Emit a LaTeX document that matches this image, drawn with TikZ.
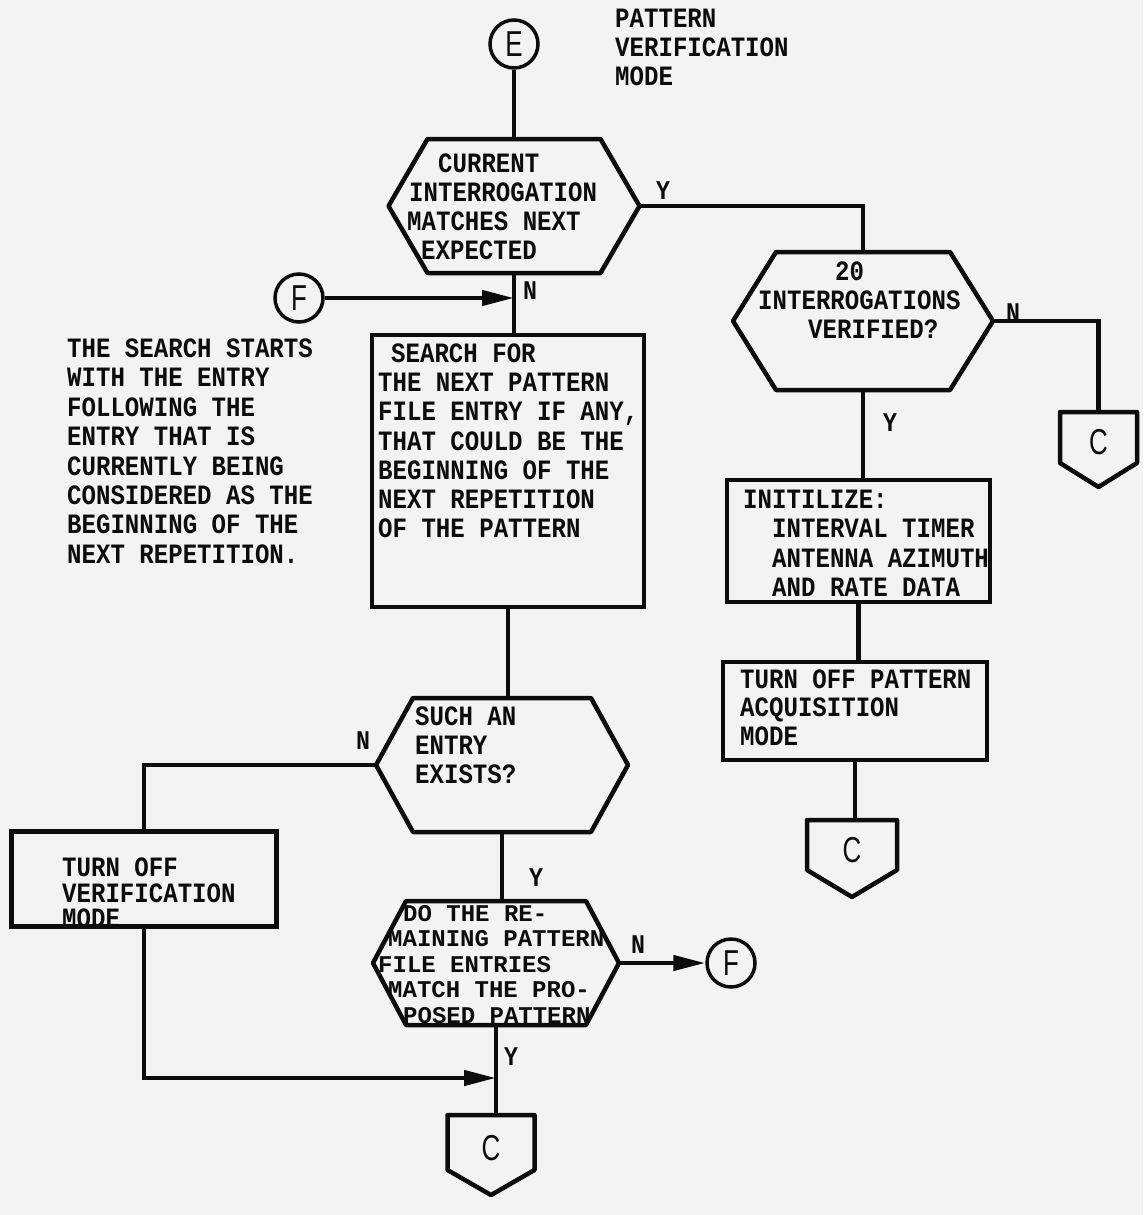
\documentclass[tikz,border=0pt]{standalone}
\usepackage{fontspec}
\usetikzlibrary{arrows.meta,calc}
\newfontfamily\tw[FakeStretch=0.86]{Liberation Mono}
\newfontfamily\twn[FakeStretch=1.0]{Liberation Mono}
\newfontfamily\cf[FakeStretch=0.72]{Liberation Sans}
\definecolor{paper}{RGB}{243,243,243}
\definecolor{ink}{RGB}{12,12,12}
\tikzset{
  shp/.style={draw=ink, line width=4.5pt, line join=round},
  ln/.style={draw=ink, line width=4.5pt},
  arr/.style={draw=ink, line width=4.5pt, -{Triangle[length=32pt,width=15pt]}},
  txt/.style={text=ink, font=\tw\bfseries\fontsize{28}{29}\selectfont, inner sep=0pt, align=left, anchor=north west},
  lbl/.style={text=ink, font=\tw\bfseries\fontsize{27}{28}\selectfont, inner sep=0pt},
  circ/.style={draw=ink, text=ink, circle, line width=3.5pt, minimum size=48pt, inner sep=0pt, font=\cf\fontsize{36}{36}\selectfont},
  cletter/.style={text=ink, inner sep=0pt, font=\cf\fontsize{36}{36}\selectfont},
  boxx/.style={draw=ink, line width=4.5pt, inner sep=0pt}
}
% hexagon: name, cx, cy, half width, half height, chamfer
\newcommand\myhex[6]{%
  \coordinate (#1l) at (#2-#4,#3);
  \coordinate (#1r) at (#2+#4,#3);
  \coordinate (#1t) at (#2,#3-#5);
  \coordinate (#1b) at (#2,#3+#5);
  \draw[shp] (#1l) -- (#2-#4+#6,#3-#5) -- (#2+#4-#6,#3-#5) -- (#1r) -- (#2+#4-#6,#3+#5) -- (#2-#4+#6,#3+#5) -- cycle;}
% off-page connector: name, cx, top, half width, side height, tip height, letter
\newcommand\myoff[7]{%
  \coordinate (#1t) at (#2,#3);
  \draw[shp] (#2-#4,#3) -- (#2+#4,#3) -- (#2+#4,#3+#5) -- (#2,#3+#5+#6) -- (#2-#4,#3+#5) -- cycle;
  \node[cletter] (#1) at (#2,#3+#5*0.6) {#7};}
\begin{document}
\begin{tikzpicture}[x=1pt,y=-1pt]
\fill[paper] (0,0) rectangle (1143,1215);
\useasboundingbox (0,0) rectangle (1143,1215);

% title
\node[txt] (title) at (615,8.5) {PATTERN\\VERIFICATION\\MODE};

% entry E
\node[circ] (E) at (514,44) {E};

% decision 1
\myhex{ha}{514}{206}{125.5}{67}{39}
\node[txt] (hatxt) at (407,153.5) {\hspace*{31pt}CURRENT\\\hspace*{2pt}INTERROGATION\\MATCHES NEXT\\\hspace*{14pt}EXPECTED};

% connector F (in)
\node[circ] (Fa) at (299,298) {F};
\coordinate (ja) at (514,298);

% search box
\node[boxx, minimum width=272pt, minimum height=272pt] (sb) at (508,471) {};
\node[txt, font=\tw\bfseries\fontsize{28}{29.2}\selectfont] (sbtxt) at (378,343.5) {\hspace*{13pt}SEARCH FOR\\THE NEXT PATTERN\\FILE ENTRY IF ANY,\\THAT COULD BE THE\\BEGINNING OF THE\\NEXT REPETITION\\OF THE PATTERN};

% note
\node[txt, font=\tw\bfseries\fontsize{28}{29.4}\selectfont] (note) at (67,338.5) {THE SEARCH STARTS\\WITH THE ENTRY\\FOLLOWING THE\\ENTRY THAT IS\\CURRENTLY BEING\\CONSIDERED AS THE\\BEGINNING OF THE\\NEXT REPETITION.};

% decision 2
\myhex{hb}{863}{321}{130}{69}{43}
\node[txt] (hbtxt) at (758,261.5) {\hspace*{77pt}20\\INTERROGATIONS\\\hspace*{50pt}VERIFIED?};
\myoff{Ca}{1098.5}{412}{38.5}{51}{24}{C}

% initialise box
\node[boxx, minimum width=263pt, minimum height=122pt] (ib) at (858.5,541) {};
\node[txt, font=\tw\bfseries\fontsize{28}{29.6}\selectfont] (ibtxt) at (743,489.5) {INITILIZE:\\\hspace*{29pt}INTERVAL TIMER\\\hspace*{29pt}ANTENNA AZIMUTH\\\hspace*{29pt}AND RATE DATA};

% turn off pattern acquisition
\node[boxx, minimum width=264pt, minimum height=98pt] (tp) at (855,711) {};
\node[txt, font=\tw\bfseries\fontsize{28}{28.5}\selectfont] (tptxt) at (740,669.5) {TURN OFF PATTERN\\ACQUISITION\\MODE};
\myoff{Cb}{852}{820}{45}{50}{27}{C}

% decision 3
\myhex{hc}{502}{765}{126}{67}{37}
\node[txt] (hctxt) at (415,706.5) {SUCH AN\\ENTRY\\EXISTS?};

% turn off verification
\node[boxx, minimum width=265pt, minimum height=95pt] (tv) at (144,879) {};
\node[txt, font=\tw\bfseries\fontsize{28}{25.5}\selectfont] (tvtxt) at (62,858) {TURN OFF\\VERIFICATION\\MODE};

% decision 4
\myhex{hd}{496}{963}{123}{62}{33}
\node[txt, font=\twn\bfseries\fontsize{24}{25.5}\selectfont] (hdtxt) at (378,905) {\hspace*{25pt}DO THE RE-\\\hspace*{10pt}MAINING PATTERN\\FILE ENTRIES\\\hspace*{10pt}MATCH THE PRO-\\\hspace*{25pt}POSED PATTERN};
\node[circ] (Fb) at (731,963) {F};

% join and exit
\coordinate (jb) at (496,1078);
\myoff{Cc}{491}{1115}{43.5}{55}{25}{C}

% connectors
\draw[ln] (E) -- (hat);
\draw[ln] (har) -| (hbt);
\draw[ln] (hab) -- (hab |- sb.north);
\draw[arr] (Fa) -- (ja);
\draw[ln] (sb.south) -- (sb.south |- hct);
\draw[ln] (hbr) -| (Cat);
\draw[ln] (hbb) -- (hbb |- ib.north);
\draw[ln] (ib.south) -- (ib.south |- tp.north);
\draw[ln] (tp.south) -- (tp.south |- Cbt);
\draw[ln] (hcl) -| (tv.north);
\draw[ln] (hcb) -- (hcb |- hdt);
\draw[arr] (hdr) -- (Fb);
\draw[ln] (hdb) -- (hdb |- Cct);
\draw[arr] (tv.south) |- (jb);

% branch labels
\node[lbl] (ya) at (663,191) {Y};
\node[lbl] (na) at (530,291) {N};
\node[lbl] (nb) at (1013,313) {N};
\node[lbl] (yb) at (890,423) {Y};
\node[lbl] (nc) at (363,741) {N};
\node[lbl] (yc) at (536,878) {Y};
\node[lbl] (nd) at (638,945) {N};
\node[lbl] (yd) at (511,1057) {Y};
\end{tikzpicture}
\end{document}
